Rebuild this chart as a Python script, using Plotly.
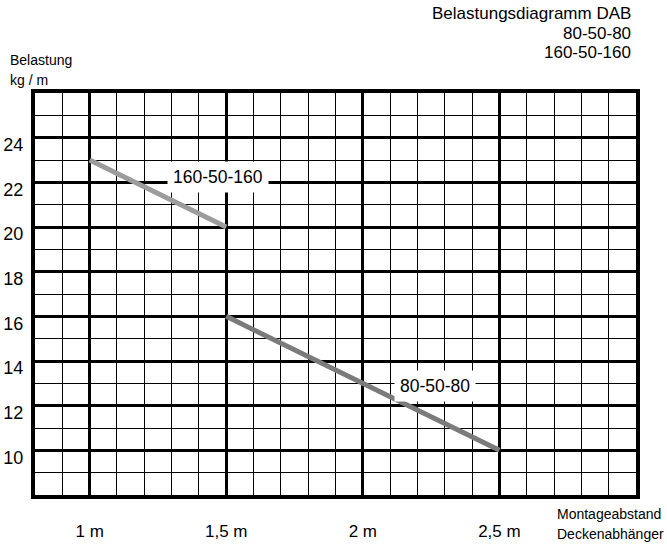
import plotly.graph_objects as go

# Data
x_160 = [1.0, 1.5]
y_160 = [23, 20]
x_80 = [1.5, 2.5]
y_80 = [16, 10]
xtick_vals = [1.0, 1.5, 2.0, 2.5]
xtick_text = ["1 m", "1,5 m", "2 m", "2,5 m"]
ytick_vals = [10, 12, 14, 16, 18, 20, 22, 24]
series_names = ["160-50-160", "80-50-80"]

FONT = "Liberation Sans, Arial, sans-serif"

fig = go.Figure()
fig.add_trace(go.Scatter(x=x_160, y=y_160, mode="lines", name=series_names[0],
                         line=dict(color="#9c9c9c", width=5), hoverinfo="skip"))
fig.add_trace(go.Scatter(x=x_80, y=y_80, mode="lines", name=series_names[1],
                         line=dict(color="#7b7b7b", width=5), hoverinfo="skip"))

fig.update_layout(
    width=667, height=544,
    margin=dict(l=35, r=31, t=93, b=49, autoexpand=False),
    paper_bgcolor="white", plot_bgcolor="white",
    showlegend=False,
    font=dict(family=FONT, color="black"),
    xaxis=dict(range=[0.8, 3.0], tickvals=xtick_vals, ticktext=xtick_text,
               showgrid=True, gridcolor="black", gridwidth=3,
               minor=dict(dtick=0.1, tick0=0.8, showgrid=True, gridcolor="black", gridwidth=1),
               showline=True, linecolor="black", linewidth=4, mirror=True,
               zeroline=False, ticks="", ticklabelstandoff=18,
               tickfont=dict(size=17, family=FONT), fixedrange=True),
    yaxis=dict(range=[8, 26], tickvals=ytick_vals,
               showgrid=True, gridcolor="black", gridwidth=3,
               minor=dict(dtick=1, tick0=8, showgrid=True, gridcolor="black", gridwidth=1),
               showline=True, linecolor="black", linewidth=4, mirror=True,
               zeroline=False, ticks="", ticklabelstandoff=4, ticklabelshift=7,
               tickfont=dict(size=18, family=FONT), fixedrange=True),
)

annos = [
    dict(text=series_names[0], x=1.47, y=22.23, xref="x", yref="y",
         font=dict(size=17.5), bgcolor="white", borderpad=5),
    dict(text=series_names[1], x=2.265, y=12.88, xref="x", yref="y",
         font=dict(size=17.5), bgcolor="white", borderpad=5),
    dict(text="Belastungsdiagramm DAB", x=0.995, y=1.199, xanchor="right", font=dict(size=17)),
    dict(text="80-50-80", x=0.995, y=1.149, xanchor="right", font=dict(size=17)),
    dict(text="160-50-160", x=0.995, y=1.100, xanchor="right", font=dict(size=17)),
    dict(text="Belastung", x=-0.045, y=1.082, xanchor="left", font=dict(size=14)),
    dict(text="kg / m", x=-0.045, y=1.032, xanchor="left", font=dict(size=14)),
    dict(text="Montageabstand", x=0.865, y=-0.0470, xanchor="left", font=dict(size=14)),
    dict(text="Deckenabhänger", x=0.865, y=-0.0960, xanchor="left", font=dict(size=14)),
]
for a in annos:
    a.setdefault("xref", "paper")
    a.setdefault("yref", "paper")
    a.setdefault("yanchor", "middle")
    a["showarrow"] = False
    fig.add_annotation(**a)

fig.write_html("out.html", config={"displayModeBar": False},
               post_script="document.body.style.margin='0';document.body.style.overflow='hidden';")
